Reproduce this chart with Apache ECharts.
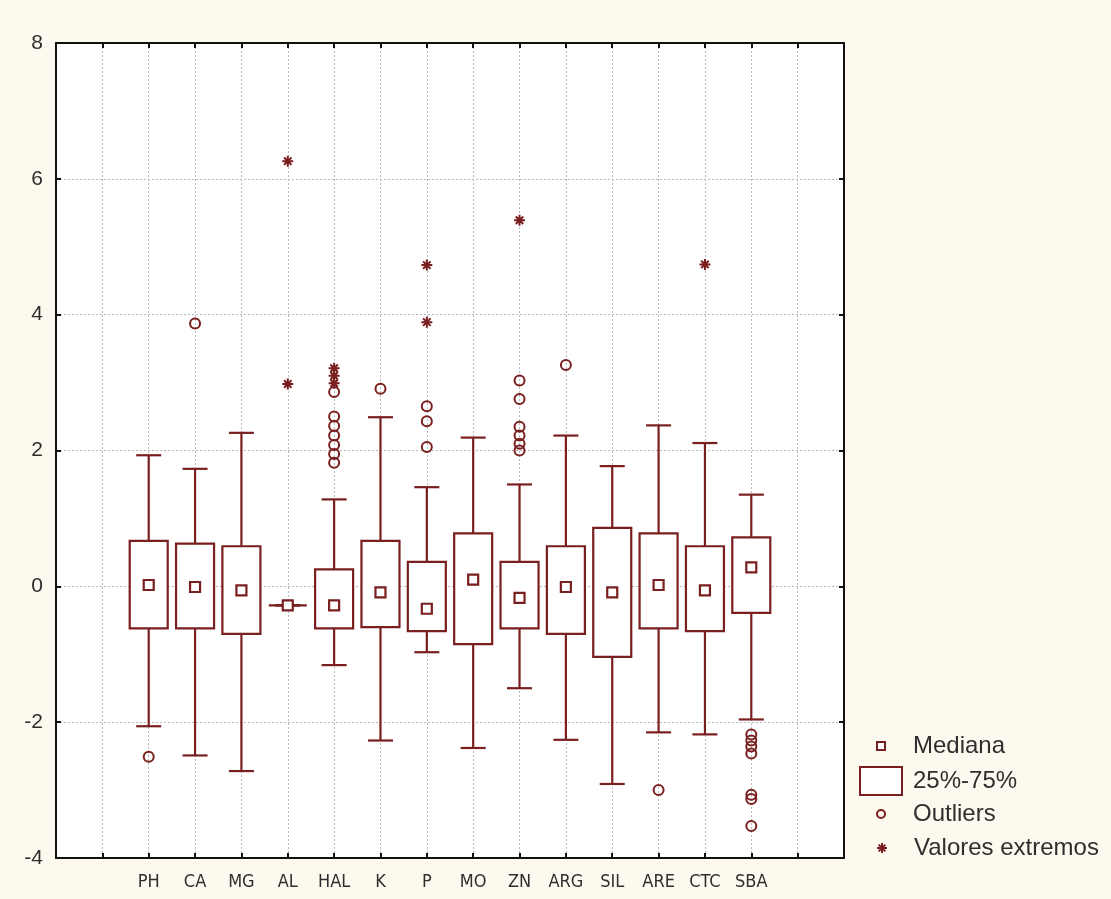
<!DOCTYPE html>
<html>
<head>
<meta charset="utf-8">
<script src="https://cdn.jsdelivr.net/npm/echarts@6/dist/echarts.min.js"></script>
<style>
  html, body { margin: 0; padding: 0; background: #fdf9ee; }
  #chart { width: 1111px; height: 899px; }
</style>
</head>
<body>
<div id="chart"></div>
<script>
// ---- data ----
const categories   = ['PH', 'CA', 'MG', 'AL', 'HAL', 'K', 'P', 'MO', 'ZN', 'ARG', 'SIL', 'ARE', 'CTC', 'SBA'];
const lowerWhisker = [-2.06, -2.49, -2.72, -0.28, -1.16, -2.27, -0.97, -2.38, -1.50, -2.26, -2.91, -2.15, -2.18, -1.96];
const quartile1    = [-0.62, -0.62, -0.70, -0.28, -0.62, -0.60, -0.66, -0.85, -0.62, -0.70, -1.04, -0.62, -0.66, -0.39];
const medians      = [ 0.02, -0.01, -0.06, -0.28, -0.28, -0.09, -0.33,  0.10, -0.17, -0.01, -0.09,  0.02, -0.06,  0.28];
const quartile3    = [ 0.67,  0.63,  0.59, -0.28,  0.25,  0.67,  0.36,  0.78,  0.36,  0.59,  0.86,  0.78,  0.59,  0.72];
const upperWhisker = [ 1.93,  1.73,  2.26, -0.28,  1.28,  2.49,  1.46,  2.19,  1.50,  2.22,  1.77,  2.37,  2.11,  1.35];

const outlierPoints = [
  ['PH', -2.51],
  ['CA', 3.87],
  ['HAL', 2.86], ['HAL', 2.50], ['HAL', 2.36], ['HAL', 2.22], ['HAL', 2.08], ['HAL', 1.95], ['HAL', 1.82],
  ['K', 2.91],
  ['P', 2.65], ['P', 2.43], ['P', 2.05],
  ['ZN', 3.03], ['ZN', 2.76], ['ZN', 2.35], ['ZN', 2.22], ['ZN', 2.10], ['ZN', 2.00],
  ['ARG', 3.26],
  ['ARE', -3.00],
  ['SBA', -2.18], ['SBA', -2.27], ['SBA', -2.36], ['SBA', -2.46], ['SBA', -3.07], ['SBA', -3.13], ['SBA', -3.53]
];
const extremePoints = [
  ['AL', 6.26], ['AL', 2.98],
  ['HAL', 3.21], ['HAL', 3.10], ['HAL', 2.99],
  ['P', 4.73], ['P', 3.89],
  ['ZN', 5.39],
  ['CTC', 4.74]
];
const yTicks = { min: -4, max: 8, step: 2 };
const legendNames = ['Mediana', '25%-75%', 'Outliers', 'Valores extremos'];

// ---- build ----
const C = '#7a1f1f';
const OFFSET = 2; // first category sits at x = 2 on a 0..17 axis
const pos = name => categories.indexOf(name) + OFFSET;

const boxRows = categories.map((c, i) => [i + OFFSET, lowerWhisker[i], quartile1[i], medians[i], quartile3[i], upperWhisker[i]]);
const medianRows = categories.map((c, i) => [i + OFFSET, medians[i]]);
const outlierRows = outlierPoints.map(p => [pos(p[0]), p[1]]);
const extremeRows = extremePoints.map(p => [pos(p[0]), p[1]]);

const STAR = 'path://M5,0L5,10M0,5L10,5M1.6,1.6L8.4,8.4M8.4,1.6L1.6,8.4';

function renderBox(params, api) {
  const x = api.value(0);
  const lo = api.coord([x, api.value(1)]);
  const a = api.coord([x, api.value(2)]);
  const b = api.coord([x, api.value(4)]);
  const hi = api.coord([x, api.value(5)]);
  const band = api.size([1, 0])[0];
  const bw = band * 0.82, cw = band * 0.54;
  const cx = lo[0];
  const st = { stroke: C, lineWidth: 2.2, fill: null };
  return {
    type: 'group',
    children: [
      { type: 'line', shape: { x1: cx, y1: hi[1], x2: cx, y2: b[1] }, style: st },
      { type: 'line', shape: { x1: cx, y1: a[1], x2: cx, y2: lo[1] }, style: st },
      { type: 'line', shape: { x1: cx - cw / 2, y1: hi[1], x2: cx + cw / 2, y2: hi[1] }, style: st },
      { type: 'line', shape: { x1: cx - cw / 2, y1: lo[1], x2: cx + cw / 2, y2: lo[1] }, style: st },
      { type: 'rect', shape: { x: cx - bw / 2, y: b[1], width: bw, height: a[1] - b[1] },
        style: { stroke: C, lineWidth: 2.2, fill: '#ffffff' } }
    ]
  };
}
function renderMedian(params, api) {
  const p = api.coord([api.value(0), api.value(1)]);
  const s = 10;
  return { type: 'rect', shape: { x: p[0] - s / 2, y: p[1] - s / 2, width: s, height: s },
           style: { stroke: C, lineWidth: 2.2, fill: '#ffffff' } };
}

const chart = echarts.init(document.getElementById('chart'), null, { renderer: 'canvas' });
const axisLineStyle = { color: '#111', width: 2 };
const tickStyle = { inside: true, length: 5, lineStyle: { color: '#111', width: 2 } };
const gridLine = { show: true, lineStyle: { color: '#b8b8b8', width: 1, type: [2, 2] } };
const legendBase = {
  orient: 'vertical', padding: 0, itemWidth: 54, selectedMode: false,
  textStyle: { fontSize: 24, color: '#2e2e2e', fontFamily: 'Liberation Sans, Arial, sans-serif' }
};

chart.setOption({
  backgroundColor: '#fdf9ee',
  animation: false,
  grid: { left: 56, right: 267, top: 43, bottom: 41, show: true, backgroundColor: '#ffffff', borderWidth: 0 },
  xAxis: [
    {
      type: 'value', min: 0, max: 17, interval: 1, position: 'bottom',
      axisLine: { onZero: false, lineStyle: axisLineStyle },
      axisTick: tickStyle,
      axisLabel: {
        margin: 15, fontSize: 18, color: '#2e2e2e',
        fontFamily: 'Liberation Sans Narrow, DejaVu Sans Condensed, Liberation Sans, Arial, sans-serif',
        formatter: v => categories[v - OFFSET] || '',
        showMinLabel: true, showMaxLabel: true
      },
      splitLine: gridLine
    },
    {
      type: 'value', min: 0, max: 17, interval: 1, position: 'top',
      axisLine: { onZero: false, lineStyle: axisLineStyle },
      axisTick: tickStyle,
      axisLabel: { show: false }, splitLine: { show: false }
    }
  ],
  yAxis: [
    {
      type: 'value', min: yTicks.min, max: yTicks.max, interval: yTicks.step, position: 'left',
      axisLine: { show: true, onZero: false, lineStyle: axisLineStyle },
      axisTick: Object.assign({ show: true }, tickStyle),
      axisLabel: { margin: 13, fontSize: 21, color: '#2e2e2e', fontFamily: 'Liberation Sans, Arial, sans-serif' },
      splitLine: gridLine
    },
    {
      type: 'value', min: yTicks.min, max: yTicks.max, interval: yTicks.step, position: 'right',
      axisLine: { show: true, onZero: false, lineStyle: axisLineStyle },
      axisTick: Object.assign({ show: true }, tickStyle),
      axisLabel: { show: false }, splitLine: { show: false }
    }
  ],
  legend: [
    Object.assign({}, legendBase, { left: 876, top: 734, itemHeight: 8,
      data: [{ name: legendNames[0], icon: 'path://M0,0L10,0L10,10L0,10Z', itemStyle: { color: '#ffffff', borderColor: C, borderWidth: 2, opacity: 1 } }] }),
    Object.assign({}, legendBase, { left: 859, top: 766, itemHeight: 28,
      data: [{ name: legendNames[1], icon: 'path://M0,0L42,0L42,28L0,28Z', itemStyle: { color: '#ffffff', borderColor: C, borderWidth: 2, opacity: 1 } }] }),
    Object.assign({}, legendBase, { left: 876, top: 802, itemHeight: 8,
      data: [{ name: legendNames[2], icon: 'circle', itemStyle: { color: 'rgba(0,0,0,0)', borderColor: C, borderWidth: 2, opacity: 1 } }] }),
    Object.assign({}, legendBase, { left: 876, top: 836, itemHeight: 10,
      data: [{ name: legendNames[3], icon: STAR, itemStyle: { color: 'rgba(0,0,0,0)', borderColor: C, borderWidth: 2, opacity: 1 } }] })
  ],
  series: [
    {
      name: legendNames[1], type: 'custom', silent: true, renderItem: renderBox,
      data: boxRows, encode: { x: 0, y: [1, 2, 3, 4, 5] }, z: 2
    },
    {
      name: legendNames[0], type: 'custom', silent: true, renderItem: renderMedian,
      data: medianRows, encode: { x: 0, y: 1 }, z: 3
    },
    {
      name: legendNames[2], type: 'scatter', silent: true, symbol: 'circle', symbolSize: 10,
      itemStyle: { color: 'rgba(0,0,0,0)', borderColor: C, borderWidth: 2, opacity: 1 },
      data: outlierRows, z: 4
    },
    {
      name: legendNames[3], type: 'scatter', silent: true, symbol: STAR, symbolSize: 11,
      itemStyle: { color: 'rgba(0,0,0,0)', borderColor: C, borderWidth: 2, opacity: 1 },
      data: extremeRows, z: 4
    }
  ]
});
</script>
</body>
</html>
